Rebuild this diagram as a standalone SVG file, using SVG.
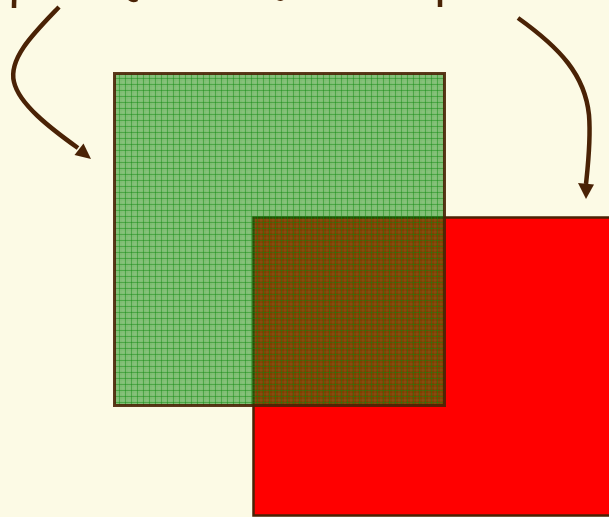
<svg xmlns="http://www.w3.org/2000/svg" width="609" height="517" viewBox="0 0 609 517">
<style>
.arr{fill:none;stroke:#4a2205;stroke-width:4.5;stroke-linecap:butt}
.head{fill:#4a2205}
.edge{stroke:#4a2205}
</style>
<defs>
<pattern id="grid" patternUnits="userSpaceOnUse" x="114" y="73" width="6" height="6">
<rect x="2.5" y="0" width="1" height="6" fill="#ffffff" opacity="0.06"/>
<rect x="0" y="2.5" width="6" height="1" fill="#ffffff" opacity="0.06"/>
<rect x="5.5" y="0" width="1" height="6" fill="#108a10" opacity="0.9"/>
<rect x="0" y="5.5" width="6" height="1" fill="#108a10" opacity="0.9"/>
</pattern>
</defs>
<rect width="609" height="517" fill="#fcfae5"/>
<g id="red-rect">
<rect x="253.5" y="217.5" width="370" height="298" fill="#ff0000" class="edge" stroke-width="2.5"/>
</g>
<g id="green-square">
<rect x="114.5" y="73.5" width="330" height="332" fill="#008000" fill-opacity="0.5"/>
<rect x="114.5" y="73.5" width="330" height="332" fill="url(#grid)"/>
<rect x="114.5" y="73.5" width="330" height="332" fill="none" class="edge" stroke-width="3" stroke-opacity="0.9"/>
</g>
<g id="connectors">
<path class="arr" d="M 16 -20 Q 14 -5 14 8"/>
<path class="arr" d="M 126 -10 Q 129 3 137 -1"/>
<path class="arr" d="M 275 -8 Q 278 3 285 -4"/>
<path class="arr" d="M 440 -20 L 440 7"/>
<path class="arr" d="M 59 7 C 35 32, 8 58, 14 82 C 19 104, 50 128, 78 148"/>
<polygon class="head" points="91,159 74.5,155 83.5,143.5"/>
<path class="arr" d="M 518 18 C 560 48, 585 75, 589 115 C 591 140, 588 165, 586 184"/>
<polygon class="head" points="586,199 578,183 594,184.5"/>
</g>
</svg>
